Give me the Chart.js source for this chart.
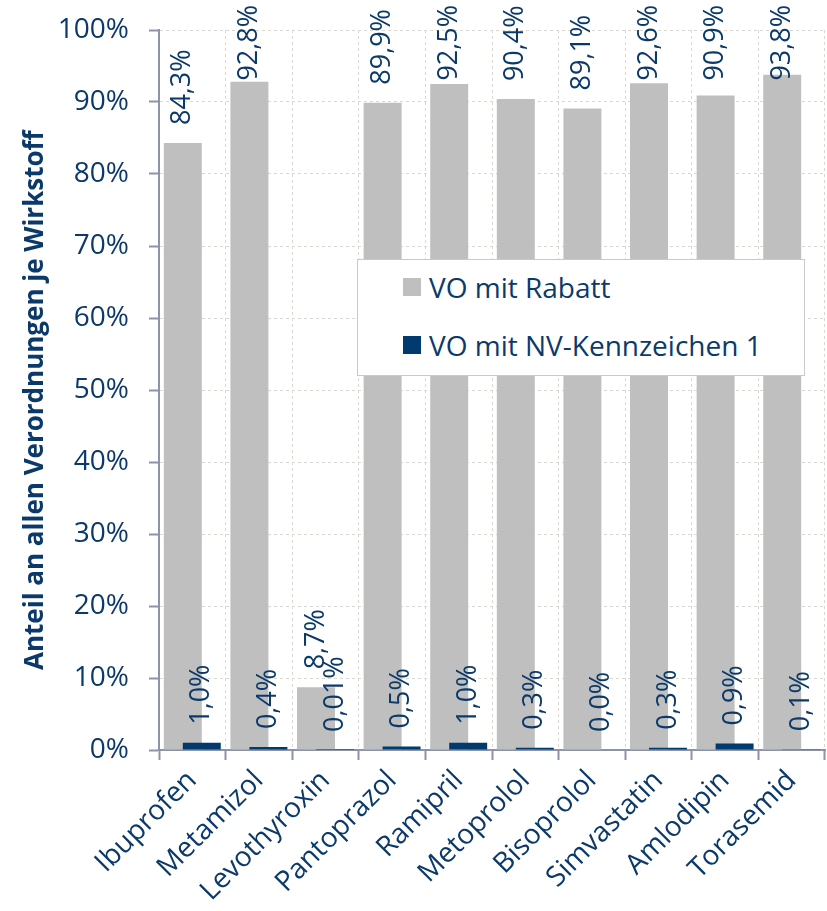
<!DOCTYPE html>
<html>
<head>
<meta charset="utf-8">
<script src="https://cdn.jsdelivr.net/npm/chart.js@4"></script>
<style>
  html, body { margin: 0; padding: 0; background: #ffffff; }
  #wrap { position: relative; width: 827px; height: 911px; }
  #legend {
    position: absolute; left: 357px; top: 259px; width: 446px; height: 115px;
    background: #ffffff; border: 1px solid #C9C9C9;
    font-family: "Open Sans", sans-serif; font-size: 28px; color: #0B3A6A;
  }
  .item { position: absolute; left: 45px; display: flex; align-items: center; white-space: nowrap; }
  .sw { width: 18px; height: 18px; margin-right: 8px; }
</style>
</head>
<body>
<div id="wrap">
  <canvas id="c" width="827" height="911"></canvas>
  <div id="legend">
    <div class="item" style="top:8px"><span class="sw" style="background:#BFBFBF"></span><span>VO mit Rabatt</span></div>
    <div class="item" style="top:66px"><span class="sw" style="background:#003A6E"></span><span>VO mit NV-Kennzeichen 1</span></div>
  </div>
</div>
<script>
// ---- data ----
const categories = ["Ibuprofen","Metamizol","Levothyroxin","Pantoprazol","Ramipril","Metoprolol","Bisoprolol","Simvastatin","Amlodipin","Torasemid"];
const rabattValues = [84.3, 92.8, 8.7, 89.9, 92.5, 90.4, 89.1, 92.6, 90.9, 93.8];
const nvValues = [1.0, 0.4, 0.01, 0.5, 1.0, 0.3, 0.0, 0.3, 0.9, 0.1];
const seriesNames = ["VO mit Rabatt", "VO mit NV-Kennzeichen 1"];
const yTicks = [0, 10, 20, 30, 40, 50, 60, 70, 80, 90, 100];

// ---- style ----
const TEXT = "#0B3A6A";
const GREY = "#BFBFBF";
const NAVY = "#003A6E";
const FONT = '"Open Sans", sans-serif';

function fmt(v) {
  const d = (v > 0 && v < 0.05) ? 2 : 1;
  return v.toFixed(d).replace(".", ",") + "%";
}

const labelPlugin = {
  id: "valueLabels",
  afterDatasetsDraw(chart) {
    const ctx = chart.ctx;
    ctx.save();
    ctx.font = "27px " + FONT;
    ctx.fillStyle = TEXT;
    ctx.textAlign = "left";
    ctx.textBaseline = "middle";
    chart.data.datasets.forEach((ds, di) => {
      if (!ds.showLabels) return;
      const meta = chart.getDatasetMeta(di);
      meta.data.forEach((el, i) => {
        const txt = fmt(ds.data[i]);
        const w = ctx.measureText(txt).width;
        let start = el.y - 18;
        if (start - w < 5) start = 5 + w;
        ctx.save();
        ctx.translate(el.x, start);
        ctx.rotate(-Math.PI / 2);
        ctx.fillText(txt, 0, 0);
        ctx.restore();
      });
    });
    ctx.restore();
  }
};

new Chart(document.getElementById("c"), {
  type: "bar",
  data: {
    labels: categories,
    datasets: [
      { label: "_spacer", data: categories.map(() => null), order: 0, stack: "a", backgroundColor: "rgba(0,0,0,0)" },
      { label: seriesNames[1], data: nvValues, order: 1, stack: "b", backgroundColor: NAVY, showLabels: true },
      { label: seriesNames[0], data: rabattValues, order: 2, stack: "a", backgroundColor: GREY, showLabels: true }
    ]
  },
  options: {
    responsive: false,
    animation: false,
    devicePixelRatio: 1,
    categoryPercentage: 0.57,
    barPercentage: 2,
    layout: { padding: { top: 30, right: 2, left: 0, bottom: 0 } },
    plugins: { legend: { display: false }, tooltip: { enabled: false } },
    scales: {
      x: {
        offset: true,
        grid: { offset: true, color: "#DDD8CF", tickColor: "#8D93A8", tickLength: 10, lineWidth: 1, tickWidth: 2 },
        border: { color: "#8D93A8", width: 2, dash: [3, 3] },
        ticks: { color: TEXT, font: { family: FONT, size: 28 }, maxRotation: 45, minRotation: 45, padding: 4, autoSkip: false },
        afterFit: (s) => { s.height = 161; s.paddingLeft = 0; s.paddingRight = 0; }
      },
      y: {
        min: 0, max: 100,
        afterBuildTicks: (s) => { s.ticks = yTicks.map(v => ({ value: v })); },
        grid: { color: "#DDD8CF", tickColor: "#8D93A8", tickLength: 10, lineWidth: 1, tickWidth: 2 },
        border: { color: "#8D93A8", width: 2, dash: [3, 3] },
        ticks: { color: TEXT, font: { family: FONT, size: 28 }, padding: 20, callback: (v) => v + "%" },
        title: { display: true, text: "Anteil an allen Verordnungen je Wirkstoff   ", color: TEXT, font: { family: FONT, size: 26, weight: "bold" }, padding: { top: 20, bottom: 0 } },
        afterFit: (s) => { s.width = 159; s.paddingTop = 0; s.paddingBottom = 0; }
      }
    }
  },
  plugins: [labelPlugin]
});
</script>
</body>
</html>
